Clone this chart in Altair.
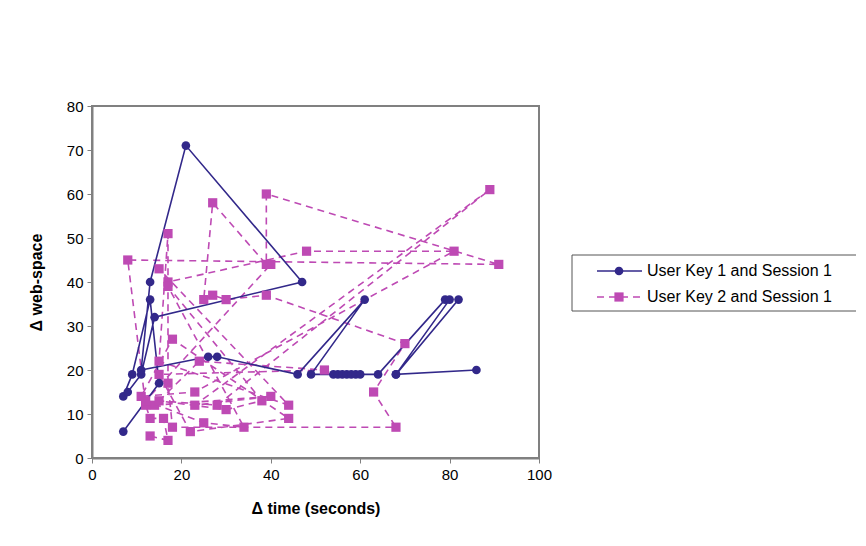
import altair as alt
import pandas as pd

series_names = ["User Key 1 and Session 1", "User Key 2 and Session 1"]

# User Key 1 (navy, solid, circles) in drawing order
k1_time = [7, 15, 13, 9, 7, 8, 11, 14, 47, 21, 13, 11, 26, 28, 46, 61, 49,
           54, 55, 56, 57, 58, 59, 60, 64, 79, 80, 68, 82, 68, 86]
k1_space = [6, 17, 36, 19, 14, 15, 19, 32, 40, 71, 40, 20, 23, 23, 19, 36, 19,
            19, 19, 19, 19, 19, 19, 19, 19, 36, 36, 19, 36, 19, 20]

# User Key 2 (magenta, dashed, squares) in drawing order
k2_time = [13, 17, 16, 13, 12, 8, 91, 39, 39, 27, 25, 27, 30, 39, 70, 63, 68,
           18, 17, 17, 15, 44, 15, 17, 48, 81, 23, 11, 18, 44, 22, 15, 52, 24,
           14, 40, 23, 89, 28, 15, 30, 38, 17, 34, 25, 12, 40]
k2_space = [5, 4, 9, 9, 12, 45, 44, 60, 44, 58, 36, 37, 36, 37, 26, 15, 7,
            7, 17, 51, 22, 12, 43, 40, 47, 47, 15, 14, 27, 9, 6, 19, 20, 22,
            12, 14, 12, 61, 12, 13, 11, 13, 39, 7, 8, 13, 44]

colors = ["#32288A", "#BE4AB4"]

rows = []
for i, (x, y) in enumerate(zip(k1_time, k1_space)):
    rows.append({"series": series_names[0], "idx": i, "t": x, "w": y})
for i, (x, y) in enumerate(zip(k2_time, k2_space)):
    rows.append({"series": series_names[1], "idx": i, "t": x, "w": y})
df = pd.DataFrame(rows)

FONT = "Liberation Sans Narrow, Liberation Sans, Arial"

xenc = alt.X("t:Q", scale=alt.Scale(domain=[0, 100], nice=False),
             axis=alt.Axis(values=[0, 20, 40, 60, 80, 100], title="Δ time (seconds)",
                           grid=False, tickSize=5, tickColor="#808080",
                           domainColor="#808080", domainWidth=2, labelFlush=False,
                           labelFont=FONT, labelFontSize=15, labelColor="#000",
                           labelPadding=4, titleFont=FONT, titleFontSize=16,
                           titleFontWeight="bold", titleColor="#000",
                           titlePadding=18))
yenc = alt.Y("w:Q", scale=alt.Scale(domain=[0, 80], nice=False),
             axis=alt.Axis(values=[0, 10, 20, 30, 40, 50, 60, 70, 80],
                           title="Δ web-space", grid=False, tickSize=5,
                           tickColor="#808080", domainColor="#808080",
                           domainWidth=2, labelFlush=False, labelFont=FONT,
                           labelFontSize=15, labelColor="#000", labelPadding=4,
                           titleFont=FONT, titleFontSize=16,
                           titleFontWeight="bold", titleColor="#000",
                           titlePadding=22))

base = alt.Chart(df)

line1 = base.transform_filter(alt.datum.series == series_names[0]).mark_line(
    color=colors[0], strokeWidth=1.6).encode(x=xenc, y=yenc, order="idx:Q")
line2 = base.transform_filter(alt.datum.series == series_names[1]).mark_line(
    color=colors[1], strokeWidth=1.6, strokeDash=[7, 5]).encode(
    x=xenc, y=yenc, order="idx:Q")
pts1 = base.transform_filter(alt.datum.series == series_names[0]).mark_point(
    shape="circle", filled=True, opacity=1, size=75, color=colors[0]).encode(
    x=xenc, y=yenc)
pts2 = base.transform_filter(alt.datum.series == series_names[1]).mark_point(
    shape="square", filled=True, opacity=1, size=85, color=colors[1]).encode(
    x=xenc, y=yenc)

# legend (drawn manually to reproduce line+marker symbols)
leg = pd.DataFrame({"series": series_names, "row": [0, 1]})
leg_box = alt.Chart(pd.DataFrame({"a": [0]})).mark_rect(
    fill="white", stroke="#555", strokeWidth=1).encode(
    x=alt.value(480), x2=alt.value(766), y=alt.value(149), y2=alt.value(205))
leg_rows = []
for r, ypix in zip([0, 1], [165, 191]):
    d = leg[leg.row == r]
    dash = [] if r == 0 else [7, 5]
    leg_rows.append(alt.Chart(d).mark_rule(
        color=colors[r], strokeWidth=1.6, strokeDash=dash).encode(
        x=alt.value(505), x2=alt.value(550), y=alt.value(ypix)))
    leg_rows.append(alt.Chart(d).mark_point(
        shape="circle" if r == 0 else "square", filled=True, opacity=1,
        size=75 if r == 0 else 85, color=colors[r]).encode(
        x=alt.value(527), y=alt.value(ypix)))
    leg_rows.append(alt.Chart(d).mark_text(
        align="left", baseline="middle", font=FONT, fontSize=16,
        color="#000").encode(x=alt.value(555), y=alt.value(ypix), text="series:N"))

chart = alt.layer(line2, line1, pts2, pts1, leg_box, *leg_rows).properties(
    width=447, height=352,
    padding={"left": 84, "top": 98, "right": 317, "bottom": 78},
    autosize=alt.AutoSizeParams(type="none"),
    background="white",
).configure_view(stroke="#808080", strokeWidth=2)

chart.save("out.html", embed_options={"renderer": "svg", "actions": False})
